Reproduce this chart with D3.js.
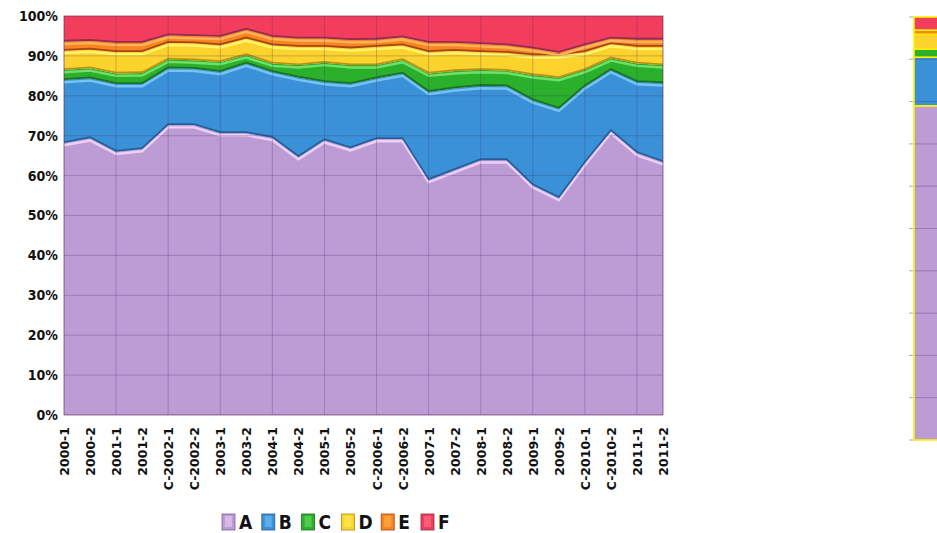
<!DOCTYPE html>
<html>
<head>
<meta charset="utf-8">
<script src="https://cdn.jsdelivr.net/npm/d3@7"></script>
<style>
  body { margin: 0; background: #fff; }
  svg { display: block; }
  .cond { font-family: "DejaVu Sans Condensed", "DejaVu Sans", sans-serif; font-stretch: condensed; }
</style>
</head>
<body>
<div id="chart"></div>
<script>
const categories = ["2000-1","2000-2","2001-1","2001-2","C-2002-1","C-2002-2","2003-1","2003-2",
  "2004-1","2004-2","2005-1","2005-2","C-2006-1","C-2006-2","2007-1","2007-2",
  "2008-1","2008-2","2009-1","2009-2","C-2010-1","C-2010-2","2011-1","2011-2"];

// shares in percent
const seriesA = [68.2,69.4,66.0,66.7,72.7,72.7,70.7,70.7,69.5,64.7,68.9,66.9,69.2,69.2,58.9,61.4,63.9,63.9,57.6,54.4,63.2,71.2,65.7,63.4];
const seriesB = [15.8,15.0,17.0,16.3,14.2,14.1,15.3,17.4,16.5,19.9,14.6,16.1,15.2,16.4,22.1,20.5,18.6,18.5,21.3,22.4,19.2,15.3,17.8,19.8];
const seriesC = [2.5,2.5,2.6,2.7,2.2,2.1,2.5,2.1,2.1,3.1,4.8,4.7,3.3,3.4,4.6,4.3,4.0,3.9,6.3,7.7,4.1,2.9,4.6,4.5];
const seriesD = [4.8,4.7,5.4,5.3,4.2,4.3,4.2,4.2,4.6,4.6,4.0,4.2,4.6,3.7,5.4,5.1,4.5,4.5,5.0,5.7,4.5,3.6,4.2,4.6];
const seriesE = [2.3,2.2,2.3,2.3,1.9,1.8,2.1,2.2,2.1,2.1,2.1,2.1,1.8,2.0,2.3,2.0,2.0,1.9,1.7,0.6,1.7,1.4,1.8,1.8];
const seriesF = [6.4,6.2,6.7,6.7,4.8,5.0,5.2,3.4,5.2,5.6,5.6,6.0,5.9,5.3,6.7,6.7,7.0,7.3,8.1,9.2,7.3,5.6,5.9,5.9];

const keys = ["A","B","C","D","E","F"];
const yTicks = [0,0.1,0.2,0.3,0.4,0.5,0.6,0.7,0.8,0.9,1];

// the cut-off single bar at the right edge
const sideBar = [79, 11.5, 1.9, 3.5, 1.0, 3.1];
const sideTicks = [0,10,20,30,40,50,60,70,80,90,100];

const colors = ["#bd9bd5","#3a91d7","#2bb02c","#fcd22c","#f7861f","#f23d5c"];
const highlight = ["#ecd0f6","#74c4f5","#6fe06a","#fff46a","#ffb45a","#ff7a8e"];
const shade = ["#7a5a98","#245a94","#1a6a1e","#b08a14","#a03e14","#8c2a4c"];

const width = 937, height = 533;
const svg = d3.select("#chart").append("svg")
  .attr("width", width).attr("height", height);

const rows = categories.map((c, i) => ({
  cat: c, A: seriesA[i], B: seriesB[i], C: seriesC[i],
  D: seriesD[i], E: seriesE[i], F: seriesF[i]
}));

const stacked = d3.stack().keys(keys).offset(d3.stackOffsetExpand)(rows);

const x = d3.scalePoint().domain(categories).range([64, 663]);
const y = d3.scaleLinear().domain([0, 1]).range([415, 16]);

svg.append("clipPath").attr("id", "plot")
  .append("rect").attr("x", 64).attr("y", 16).attr("width", 599).attr("height", 399);

const plot = svg.append("g").attr("clip-path", "url(#plot)");

const area = d3.area()
  .x(d => x(d.data.cat))
  .y0(d => y(d[0]))
  .y1(d => y(d[1]));

plot.selectAll("path.layer")
  .data(stacked)
  .join("path")
  .attr("class", "layer")
  .attr("d", area)
  .attr("fill", (d, i) => colors[i]);

const topLine = d3.line().x(d => x(d.data.cat)).y(d => y(d[1]));

// bevel: dark edge of the upper layer, light rim of the lower one
stacked.forEach((s, i) => {
  if (i === stacked.length - 1) return;
  plot.append("path")
    .attr("d", topLine(s))
    .attr("transform", "translate(0,2.4)")
    .attr("fill", "none")
    .attr("stroke", highlight[i])
    .attr("stroke-width", 2.4);
  plot.append("path")
    .attr("d", topLine(s))
    .attr("transform", "translate(0,-0.8)")
    .attr("fill", "none")
    .attr("stroke", shade[i + 1])
    .attr("stroke-width", 1.8)
    .attr("stroke-opacity", 0.9);
});

// gridlines
const grid = svg.append("g");
grid.selectAll("line.h")
  .data(yTicks)
  .join("line")
  .attr("x1", 64).attr("x2", 663)
  .attr("y1", d => y(d)).attr("y2", d => y(d))
  .attr("stroke", "rgba(70,50,110,0.28)")
  .attr("stroke-width", 1);

grid.selectAll("line.v")
  .data(categories.filter((c, i) => i % 2 === 0 || i === categories.length - 1))
  .join("line")
  .attr("x1", d => x(d)).attr("x2", d => x(d))
  .attr("y1", 16).attr("y2", 415)
  .attr("stroke", "rgba(70,50,110,0.28)")
  .attr("stroke-width", 1);

svg.append("rect")
  .attr("x", 64).attr("y", 16).attr("width", 599).attr("height", 399)
  .attr("fill", "none")
  .attr("stroke", "rgba(120,40,80,0.45)")
  .attr("stroke-width", 1);

// y axis
const yAxis = svg.append("g")
  .attr("transform", "translate(64,0)")
  .call(d3.axisLeft(y).tickValues(yTicks).tickFormat(d3.format(".0%")).tickSize(0).tickPadding(6));
yAxis.select(".domain").remove();
yAxis.selectAll("text")
  .attr("class", "cond")
  .style("font-weight", "bold")
  .style("font-size", "14px")
  .style("fill", "#111");

// x axis
const xAxis = svg.append("g")
  .attr("transform", "translate(0,415)")
  .call(d3.axisBottom(x).tickSize(0));
xAxis.select(".domain").remove();
xAxis.selectAll("text")
  .attr("transform", "rotate(-90)")
  .attr("x", -12).attr("y", 0).attr("dy", "0.36em")
  .style("text-anchor", "end")
  .style("font-family", "'DejaVu Sans', Verdana, sans-serif")
  .style("font-weight", "bold")
  .style("font-size", "12.5px")
  .style("fill", "#111");

// legend
const legend = svg.append("g").attr("transform", "translate(222,514)");
const item = legend.selectAll("g")
  .data(keys)
  .join("g")
  .attr("transform", (d, i) => `translate(${i * 39.8},0)`);
item.append("rect")
  .attr("width", 13).attr("height", 16)
  .attr("fill", (d, i) => colors[i])
  .attr("stroke", (d, i) => shade[i])
  .attr("stroke-width", 0.8);
item.append("rect")
  .attr("x", 3).attr("y", 2).attr("width", 7).attr("height", 11)
  .attr("fill", (d, i) => highlight[i])
  .attr("opacity", 0.55);
item.append("text")
  .attr("class", "cond")
  .attr("x", 17).attr("y", 15)
  .style("font-size", "19px")
  .style("font-weight", "bold")
  .style("fill", "#111")
  .text(d => d);

// right-hand partial bar
const sy = d3.scaleLinear().domain([0, 100]).range([440, 17]);
const side = svg.append("g");
side.selectAll("line.tick")
  .data(sideTicks)
  .join("line")
  .attr("x1", 909).attr("x2", 914)
  .attr("y1", d => sy(d)).attr("y2", d => sy(d))
  .attr("stroke", "#aaa");

const sideRows = [Object.fromEntries(keys.map((k, i) => [k, sideBar[i]]))];
const sideStack = d3.stack().keys(keys)(sideRows);
side.selectAll("rect.seg")
  .data(sideStack)
  .join("rect")
  .attr("class", "seg")
  .attr("x", 914).attr("width", 30)
  .attr("y", d => sy(d[0][1]))
  .attr("height", d => sy(d[0][0]) - sy(d[0][1]))
  .attr("fill", (d, i) => colors[i])
  .attr("stroke", "#fff200")
  .attr("stroke-width", 1.6);

side.selectAll("line.grid")
  .data(sideTicks.slice(1, -1))
  .join("line")
  .attr("x1", 915).attr("x2", 937)
  .attr("y1", d => sy(d)).attr("y2", d => sy(d))
  .attr("stroke", "rgba(70,50,110,0.3)");
</script>
</body>
</html>
